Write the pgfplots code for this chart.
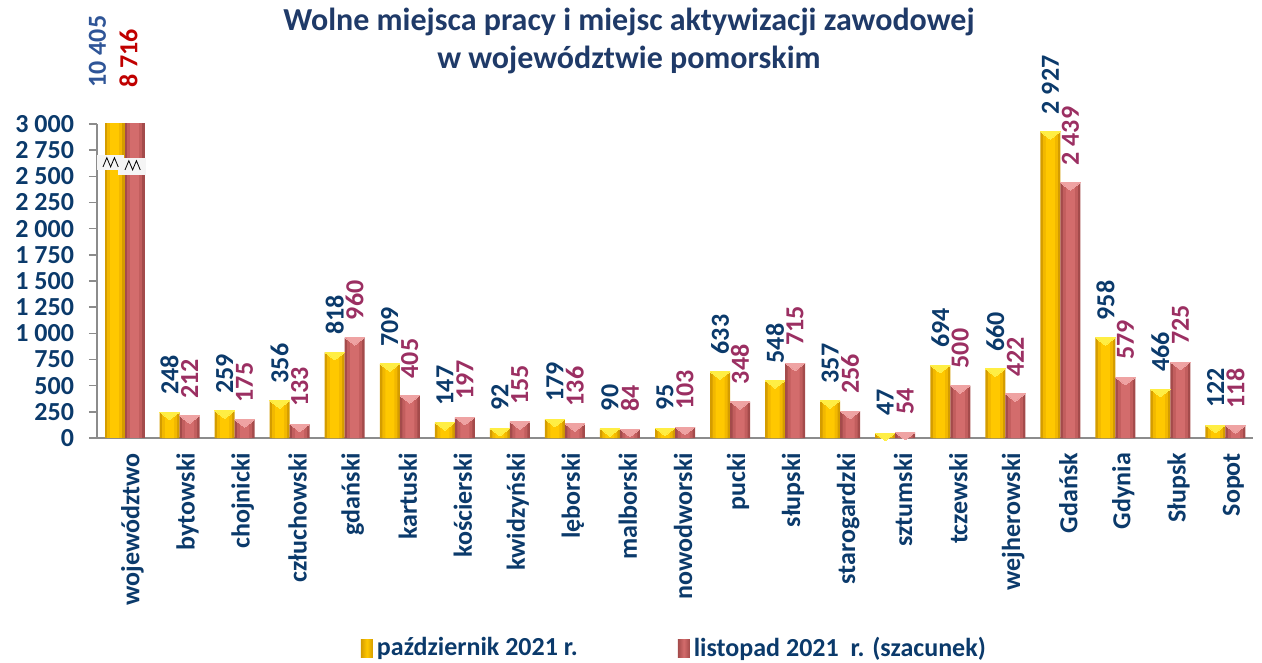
\documentclass[border=0pt]{standalone}
\usepackage{fontspec}
\setmainfont{Carlito}
\usepackage{pgfplots}
\pgfplotsset{compat=1.18}
\usepackage{pgfplotstable}
\definecolor{navy}{HTML}{0B3A6B}
\definecolor{titleblue}{HTML}{1F3A68}
\definecolor{labtwo}{HTML}{9B2F62}
\definecolor{axisgray}{HTML}{8C8C8C}
\definecolor{yelE}{HTML}{D49C00}
\definecolor{yelM}{HTML}{F2B800}
\definecolor{yelC}{HTML}{FFC800}
\definecolor{yelT}{HTML}{FFEE44}
\definecolor{redE}{HTML}{A44B4B}
\definecolor{redM}{HTML}{C25E5E}
\definecolor{redC}{HTML}{D36C6C}
\definecolor{redT}{HTML}{EFA3A3}
\definecolor{topblue}{HTML}{2F5597}
\definecolor{topred}{HTML}{C00000}

\pgfplotstableread{
x y
1 248
2 259
3 356
4 818
5 709
6 147
7 92
8 179
9 90
10 95
11 633
12 548
13 357
14 47
15 694
16 660
17 2927
18 958
19 466
20 122
}\octdata
\pgfplotstableread{
x y
1 212
2 175
3 133
4 960
5 405
6 197
7 155
8 136
9 84
10 103
11 348
12 715
13 256
14 54
15 500
16 422
17 2439
18 579
19 725
20 118
}\novdata
\pgfplotstableread{
x y
0 10405
}\octtotal
\pgfplotstableread{
x y
0 8716
}\novtotal

\pgfplotsset{
  inner bar/.style={forget plot, draw=none, nodes near coords={}, bar width=#1},
  bevel/.style={forget plot, sharp plot, only marks, nodes near coords={}, mark=triangle*, mark size=5.6pt,
    mark options={draw=#1, fill=#1, line width=0pt, yshift=-1.25pt, rotate=180, yscale=0.45}},
}

\begin{document}
\begin{tikzpicture}
\useasboundingbox (-48.5pt,-112.5pt) rectangle (582.5pt,219pt);
\begin{axis}[
  at={(0,0)}, anchor=south west,
  scale only axis,
  width=578pt, height=157pt,
  xmin=-0.5, xmax=20.5,
  ymin=0, ymax=3000,
  clip mode=individual,
  axis lines*=left,
  axis line style={axisgray, line width=0.8pt},
  tick align=outside,
  ytick={0,250,...,3000},
  major tick length=4pt,
  minor tick length=4pt,
  ytick style={axisgray, line width=0.8pt},
  xtick={0,...,20},
  xtick style={draw=none},
  minor xtick={-0.5,0.5,...,20.5},
  minor x tick style={axisgray, line width=0.8pt},
  xticklabels={województwo,bytowski,chojnicki,człuchowski,gdański,kartuski,kościerski,kwidzyński,lęborski,malborski,nowodworski,pucki,słupski,starogardzki,sztumski,tczewski,wejherowski,Gdańsk,Gdynia,Słupsk,Sopot},
  xticklabel style={rotate=90, anchor=east, font=\fontsize{13pt}{15pt}\selectfont\bfseries, text=navy, yshift=-4pt},
  yticklabel style={font=\fontsize{13pt}{15pt}\selectfont\bfseries, text=navy, xshift=-4pt},
  /pgf/number format/assume math mode=true,
  /pgf/number format/1000 sep={\ },
  ybar, bar width=10pt,
  nodes near coords={\pgfmathprintnumber[1000 sep={\ }]{\pgfplotspointmeta}},
  every node near coord/.append style={rotate=90, anchor=west, inner xsep=8.5pt, inner ysep=0pt, font=\fontsize{13pt}{15pt}\selectfont\bfseries},
  legend columns=2,
  legend style={at={(0.228,-0.669)}, anchor=west, draw=none, fill=none, inner sep=0pt,
    font=\fontsize{13pt}{15pt}\selectfont\bfseries, text=navy,
    /tikz/every even column/.append style={column sep=48pt}},
  legend cell align=left,
]
% October 2021 (yellow)
\addplot[bar shift=-5pt, draw=none, fill=yelE,
  every node near coord/.append style={text=navy},
  legend image code/.code={\fill[left color=yelE, right color=yelE, middle color=yelC] (0pt,-4.5pt) rectangle (6pt,4.5pt);}]
  table[x=x,y=y] {\octdata};
\addlegendentry{październik 2021 r.}
% November 2021 (red)
\addplot[bar shift=5pt, draw=none, fill=redE,
  every node near coord/.append style={text=labtwo},
  legend image code/.code={\fill[left color=redE, right color=redE, middle color=redC] (0pt,-4.5pt) rectangle (6pt,4.5pt);}]
  table[x=x,y=y] {\novdata};
\addlegendentry{listopad 2021\ \ r. (szacunek)}
% inner layers for a rounded look
\addplot[bar shift=-5pt, inner bar=7.5pt, fill=yelM] table[x=x,y=y] {\octdata};
\addplot[bar shift=-5pt, inner bar=4.5pt, fill=yelC] table[x=x,y=y] {\octdata};
\addplot[bar shift=5pt, inner bar=7.5pt, fill=redM] table[x=x,y=y] {\novdata};
\addplot[bar shift=5pt, inner bar=4.5pt, fill=redC] table[x=x,y=y] {\novdata};
\addplot[bevel=yelT] table[x expr=\thisrow{x}-0.18166, y=y] {\octdata};
\addplot[bevel=redT] table[x expr=\thisrow{x}+0.18166, y=y] {\novdata};
% totals (clipped at 3000)
\addplot[bar shift=-5pt, inner bar=10pt, fill=yelE] table[x=x,y=y] {\octtotal};
\addplot[bar shift=-5pt, inner bar=7.5pt, fill=yelM] table[x=x,y=y] {\octtotal};
\addplot[bar shift=-5pt, inner bar=4.5pt, fill=yelC] table[x=x,y=y] {\octtotal};
\addplot[bar shift=5pt, inner bar=10pt, fill=redE] table[x=x,y=y] {\novtotal};
\addplot[bar shift=5pt, inner bar=7.5pt, fill=redM] table[x=x,y=y] {\novtotal};
\addplot[bar shift=5pt, inner bar=4.5pt, fill=redC] table[x=x,y=y] {\novtotal};
% axis break marks on the clipped total bars
\fill[gray!8] ([xshift=-13.75pt,yshift=-4.15pt]axis cs:0,2640) rectangle ([xshift=-0.25pt,yshift=3.35pt]axis cs:0,2640);
\fill[gray!8] ([xshift=-3.25pt,yshift=-6.65pt]axis cs:0,2640) rectangle ([xshift=10.75pt,yshift=1.85pt]axis cs:0,2640);
\draw[black, line width=0.4pt] ([xshift=-10.75pt,yshift=-2.6pt]axis cs:0,2640) -- ++(1.9pt,4.6pt) -- ++(1.9pt,-4.6pt) -- ++(1.9pt,4.6pt) -- ++(1.9pt,-4.6pt);
\draw[black, line width=0.4pt] ([xshift=0.25pt,yshift=-4.1pt]axis cs:0,2640) -- ++(1.9pt,4.6pt) -- ++(1.9pt,-4.6pt) -- ++(1.9pt,4.6pt) -- ++(1.9pt,-4.6pt);
% labels of the clipped totals
\node[rotate=90, anchor=west, inner sep=0pt, text=topblue, font=\fontsize{13pt}{15pt}\selectfont\bfseries] at ([xshift=-13.5pt,yshift=18pt]axis cs:0,3000) {10\ 405};
\node[rotate=90, anchor=west, inner sep=0pt, text=topred, font=\fontsize{13pt}{15pt}\selectfont\bfseries] at ([xshift=2pt,yshift=18pt]axis cs:0,3000) {8\ 716};
\end{axis}
\node[text=titleblue, font=\fontsize{16pt}{19pt}\selectfont\bfseries, align=center] at (266pt,198.5pt) {Wolne miejsca pracy i miejsc aktywizacji zawodowej\\[0pt]w województwie pomorskim};
\end{tikzpicture}
\end{document}
